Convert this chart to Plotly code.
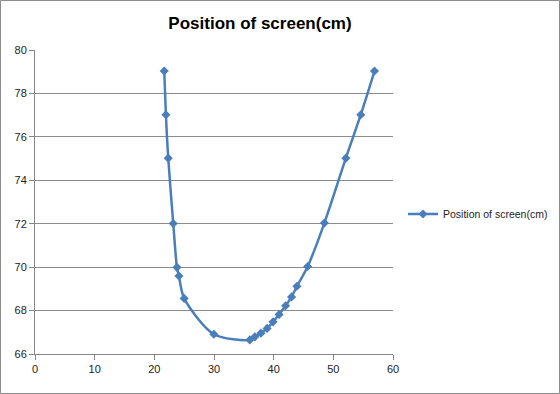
import plotly.graph_objects as go

lens_position = [21.66, 21.94, 22.33, 23.17, 23.79, 24.12, 25.0, 29.98, 36.0, 36.85, 37.86,
                 38.9, 39.9, 40.9, 42.0, 43.0, 43.9, 45.7, 48.5, 52.1, 54.6, 56.9]
screen_position = [79.03, 77.02, 75.02, 72.01, 69.99, 69.59, 68.56, 66.91, 66.65, 66.79, 66.96,
                   67.18, 67.48, 67.82, 68.22, 68.63, 69.12, 70.03, 72.03, 75.02, 77.02, 79.03]
series_name = "Position of screen(cm)"
chart_title = "Position of screen(cm)"

W, H = 560, 394
L, R, T, B = 35, 167, 50, 40
pw, ph = W - L - R, H - T - B

color = "#4A7EBB"
fig = go.Figure()
fig.add_trace(go.Scatter(
    x=lens_position, y=screen_position, mode="lines+markers", name=series_name,
    line=dict(color=color, width=2.5, shape="spline", smoothing=0.8),
    marker=dict(symbol="diamond", size=7, color=color),
))

axis_common = dict(showline=True, linecolor="#868686", linewidth=1, ticks="outside",
                   ticklen=5, tickcolor="#868686", zeroline=False,
                   tickfont=dict(family="Liberation Sans", size=11, color="#222"))
fig.update_xaxes(range=[0, 60], dtick=10, showgrid=False, **axis_common)
fig.update_yaxes(range=[66, 80], dtick=2, showgrid=True, gridcolor="#8C8C8C", gridwidth=1,
                 **axis_common)

fig.update_layout(
    width=W, height=H, margin=dict(l=L, r=R, t=T, b=B, autoexpand=False),
    paper_bgcolor="white", plot_bgcolor="white",
    title=dict(text="<b>" + chart_title + "</b>", x=(260 - L) / pw, xref="paper",
               xanchor="center", y=1 - 23 / H, yanchor="middle",
               font=dict(family="Liberation Sans", size=17, color="#000")),
    showlegend=True,
    legend=dict(x=(403 - L) / pw, y=(H - B - 214) / ph, xanchor="left", yanchor="middle",
                font=dict(family="Liberation Sans", size=10.5, color="#222"),
                bgcolor="rgba(0,0,0,0)", itemwidth=30),
    shapes=[dict(type="rect", xref="paper", yref="paper",
                 x0=(0.5 - L) / pw, x1=(W - 0.5 - L) / pw,
                 y0=-(B - 0.5) / ph, y1=1 + (T - 0.5) / ph,
                 line=dict(color="#8C8C8C", width=1), layer="below")],
)
fig.write_html("out.html")
